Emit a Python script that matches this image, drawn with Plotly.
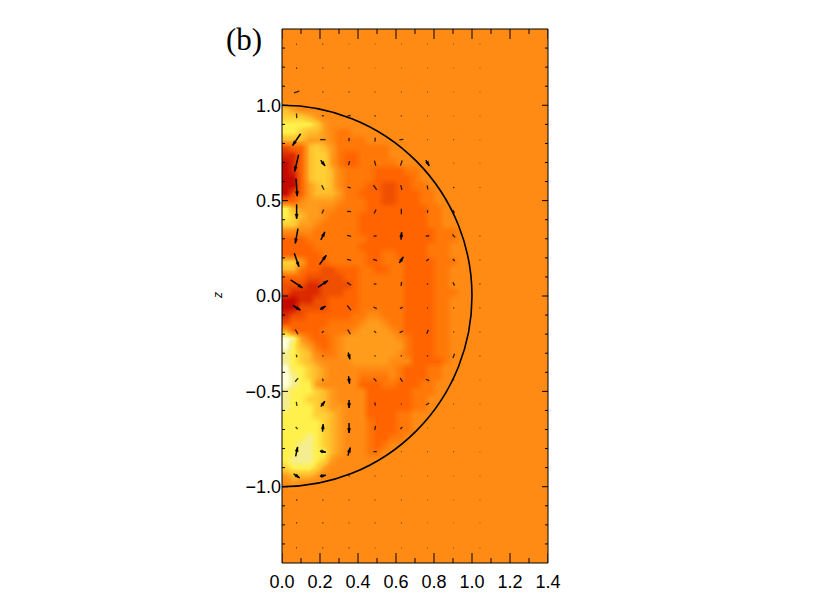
import plotly.graph_objects as go

X_TICKS = [0.0, 0.2, 0.4, 0.6, 0.8, 1.0, 1.2, 1.4]
Y_TICKS = [-1.0, -0.5, 0.0, 0.5, 1.0]
X_MINOR = [0.1, 0.3, 0.5, 0.7, 0.9, 1.1, 1.3]
Y_MINOR = [-1.3, -1.2, -1.1, -0.9, -0.8, -0.7, -0.6, -0.4, -0.3, -0.2, -0.1,
           0.1, 0.2, 0.3, 0.4, 0.6, 0.7, 0.8, 0.9, 1.1, 1.2, 1.3]

# colour levels of the field (index = level)
LEVEL_COLOURS = ["#c40a00", "#dc2a00", "#ee4f00", "#ff6400", "#ff7808", "#ff8b14",
                 "#ff9c1c", "#ffbb2c", "#ffcf35", "#fff04c", "#f5ee90", "#ffffd8"]

CELL = 0.04
N_COLS = 35
FIELD_TOP_Z = 0.98
FIELD_ROWS = [
    "76555",
    "888765",
    "99998655",
    "99877654455",
    "777666544445",
    "233787644444445",
    "113788643344445",
    "01378864334444455",
    "013788754444333344",
    "003788754444333334",
    "00367875444332233445",
    "02367776443332233344",
    "335666654443322333445",
    "976665544443333333344",
    "987665444433333333344",
    "886654444433333333344",
    "555544444433333333334445",
    "333444444443333333334445",
    "33334444443333333334445",
    "33333444444334433334445",
    "88633344444334443333444",
    "774332233344334433334455",
    "33322222334444443333445",
    "22211222234444443333445",
    "211112223344444433334445",
    "00112233334444443333445",
    "00222233334444443333445",
    "12233333344554443333445",
    "23333344445665443333445",
    "6333344445666654333344",
    "ba643345666666654333445",
    "b9764345666666664333445",
    "a9875445666666654333445",
    "a987655556666655533334",
    "b998765555555554333445",
    "ba98765555444454333445",
    "ba996555553334433344",
    "a9998765555333333444",
    "a998876555533333344",
    "a9998766555333333445",
    "999988765553333445",
    "999998765554333445",
    "999998765554333445",
    "999a9876555433445",
    "99aa987655543455",
    "99aa99765554455",
    "9aaa9865555",
    "899986555",
    "67776555",
    "565",
]

# arrow grid
ARROW_X = [0.077, 0.215, 0.353, 0.49, 0.628, 0.766, 0.904, 1.042]
ARROW_Z = [1.32, 1.195, 1.07, 0.945, 0.82, 0.697, 0.569, 0.443, 0.315, 0.189, 0.063,
           -0.062, -0.188, -0.314, -0.44, -0.566, -0.692, -0.816, -0.943, -1.07, -1.19, -1.32]
ARROW_SCALE = 1 / 571
ARROW_U = [
    [2, 2, 1, 1, 1, 1, 1, 1],
    [3, 2, 2, 1, 1, 1, 1, 1],
    [16, 3, 3, 2, 2, 2, 1, 1],
    [1, 6, 10, 4, 3, 2, 1, 1],
    [-24, 16, 1, 1, 12, 2, 2, 1],
    [-12, 13, -3, 4, -5, 10, 1, 1],
    [4, 7, 10, 10, 4, 2, 1, 0],
    [0, 5, 12, 6, 0, 0, 5, 0],
    [-8, 12, 12, 9, 2, 10, 8, 2],
    [14, 20, 12, 12, 12, 8, 6, 2],
    [36, 30, 12, 8, 2, 1, 5, 2],
    [22, 16, 11, 10, 8, 3, 3, 2],
    [8, 6, 8, 6, 10, 5, 3, 2],
    [2, 4, 5, 4, 4, 4, 5, 2],
    [9, 2, 3, 8, 7, 10, 3, 1],
    [2, 12, 0, 2, 3, 10, 2, 1],
    [6, 2, 0, 3, 6, 1, 1, 1],
    [6, 18, 7, 10, 2, 2, 2, 1],
    [18, 18, 4, 2, 1, 1, 1, 1],
    [4, 3, 2, 2, 2, 1, 1, 1],
    [3, 3, 2, 2, 2, 1, 1, 1],
    [2, 2, 2, 1, 1, 1, 1, 1],
]
ARROW_W = [
    [0, 0, 0, 0, 0, 0, 0, 0],
    [2, 0, 0, 0, 0, 0, 0, 0],
    [5, 0, 0, 0, 0, 0, 0, 0],
    [-14, 0, 2, 0, 0, 0, 0, 0],
    [-35, 0, 10, 12, 1, 0, 0, 0],
    [-50, -17, -12, -15, -15, -17, 1, 0],
    [-52, -14, -2, -14, -14, -12, -4, -2],
    [-43, 12, -1, 12, 17, 8, -8, 0],
    [-44, 24, -3, 2, 22, 2, -9, 0],
    [-40, 28, -3, -4, 18, 6, -6, 0],
    [-24, 20, -8, 0, 12, 4, -10, -2],
    [-14, 10, -14, -5, 5, 0, 0, 0],
    [-14, 6, -14, -6, 5, 12, 0, 0],
    [-8, 0, -20, 0, 0, 0, 13, 0],
    [11, -8, -22, -9, -11, -4, 0, 0],
    [-12, 16, -24, -10, 0, 6, 0, 0],
    [-6, 22, -30, 12, 6, 0, 0, 0],
    [28, -4, 24, 0, 0, 0, 0, 0],
    [-12, 3, 0, 0, 0, 0, 0, 0],
    [0, 0, 0, 0, 0, 0, 0, 0],
    [0, 0, 0, 0, 0, 0, 0, 0],
    [0, 0, 0, 0, 0, 0, 0, 0],
]
MIN_HEAD_LEN = 18

# assemble the full field, padded with the background level
bg = "5"
total_rows = 70
xc = [round(CELL / 2 + i * CELL, 3) for i in range(N_COLS)]
zc = [round(1.38 - i * CELL, 3) for i in range(total_rows)]
top_pad = round((1.38 - FIELD_TOP_Z) / CELL)
rows = [bg * N_COLS] * top_pad + [r.ljust(N_COLS, bg) for r in FIELD_ROWS]
rows += [bg * N_COLS] * (total_rows - len(rows))
field = [[int(c, 16) for c in r] for r in rows]

n = len(LEVEL_COLOURS) - 1
colorscale = [[i / n, c] for i, c in enumerate(LEVEL_COLOURS)]

fig = go.Figure()
fig.add_trace(go.Heatmap(x=xc, y=zc, z=field, zmin=0, zmax=n, colorscale=colorscale,
                         zsmooth="best", showscale=False, hoverinfo="skip"))

# shafts as strokes, heads as slim filled triangles
sx, sy, lx, ly, hx, hy = [], [], [], [], [], []
for j, z0 in enumerate(ARROW_Z):
    for i, x0 in enumerate(ARROW_X):
        u, w = ARROW_U[j][i] * ARROW_SCALE, ARROW_W[j][i] * ARROW_SCALE
        tail = (x0 - u / 2, z0 - w / 2)
        tip = (x0 + u / 2, z0 + w / 2)
        length = (ARROW_U[j][i] ** 2 + ARROW_W[j][i] ** 2) ** 0.5
        if length >= MIN_HEAD_LEN:
            lx += [tail[0], tip[0], None]
            ly += [tail[1], tip[1], None]
            ux, uw = u / (length * ARROW_SCALE), w / (length * ARROW_SCALE)
            hl, hw = 0.024, 0.008
            bx, bz = tip[0] - ux * hl, tip[1] - uw * hl
            hx += [tip[0], bx - uw * hw, bx + uw * hw, tip[0], None]
            hy += [tip[1], bz + ux * hw, bz - ux * hw, tip[1], None]
        else:
            sx += [tail[0], tip[0], None]
            sy += [tail[1], tip[1], None]
common = dict(mode="lines", hoverinfo="skip", showlegend=False)
fig.add_trace(go.Scatter(x=sx, y=sy, line=dict(color="rgba(0,0,0,0.8)", width=1.3), **common))
fig.add_trace(go.Scatter(x=lx, y=ly, line=dict(color="black", width=1.5), **common))
fig.add_trace(go.Scatter(x=hx, y=hy, fill="toself", fillcolor="black",
                         line=dict(color="black", width=0.5), **common))

PLOT_H = 534
annotations = [
    dict(x=(244 - 282) / 266, y=(563 - 39) / PLOT_H, xref="paper", yref="paper", text="(b)", showarrow=False,
         xanchor="center", yanchor="middle", font=dict(family="Liberation Serif", size=31, color="black")),
    dict(x=(218 - 282) / 266, y=(563 - 296) / PLOT_H, xref="paper", yref="paper", text="<i>z</i>", showarrow=False,
         xanchor="center", yanchor="middle", textangle=-90,
         font=dict(family="Liberation Sans", size=12, color="black")),
]

# tick marks and frame as shapes so they sit above the field
tick_style = dict(type="line", line=dict(color="black", width=1), layer="above")
shapes = [dict(type="circle", xref="x", yref="y", x0=-1, x1=1, y0=-1, y1=1,
               line=dict(color="black", width=1.6), layer="above"),
          dict(type="rect", xref="paper", yref="paper", x0=0, x1=1, y0=0, y1=1,
               line=dict(color="black", width=1), layer="above")]
for vals, length_px in ((X_TICKS, 10), (X_MINOR, 5)):
    h = length_px / PLOT_H
    for v in vals:
        shapes.append(dict(xref="x", yref="paper", x0=v, x1=v, y0=0, y1=h, **tick_style))
        shapes.append(dict(xref="x", yref="paper", x0=v, x1=v, y0=1, y1=1 - h, **tick_style))
for vals, length_px in ((Y_TICKS, 6), (Y_MINOR, 3)):
    w_ = length_px / 266
    for v in vals:
        shapes.append(dict(xref="paper", yref="y", x0=0, x1=w_, y0=v, y1=v, **tick_style))
        shapes.append(dict(xref="paper", yref="y", x0=1, x1=1 - w_, y0=v, y1=v, **tick_style))

axis_font = dict(family="Liberation Sans", size=18, color="black")
fig.update_layout(
    width=830, height=593, autosize=False,
    margin=dict(l=274, r=290, t=21, b=38),
    paper_bgcolor="white", plot_bgcolor="white", showlegend=False,
    annotations=annotations, shapes=shapes,
    xaxis=dict(range=[0, 1.4], tickvals=X_TICKS, ticktext=[f"{v:.1f}" for v in X_TICKS], tickfont=axis_font,
               ticks="", ticklabelstandoff=6, automargin=False, showgrid=False, zeroline=False),
    yaxis=dict(range=[-1.4, 1.4], tickvals=Y_TICKS, tickformat=".1f", tickfont=axis_font,
               ticks="", automargin=False, showgrid=False, zeroline=False),
)
fig.write_html("out.html")
